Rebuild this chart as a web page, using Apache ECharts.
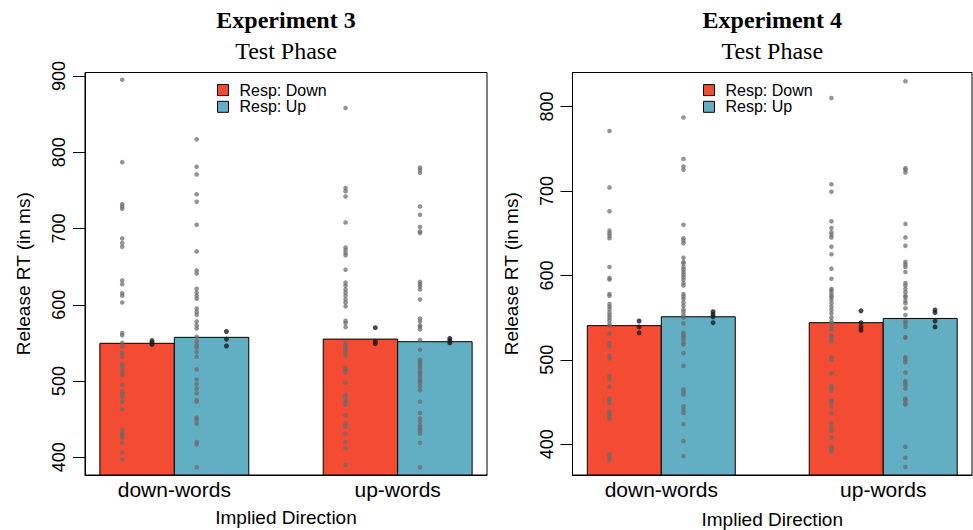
<!DOCTYPE html>
<html>
<head>
<meta charset="utf-8">
<script src="https://cdn.jsdelivr.net/npm/echarts@6/dist/echarts.min.js"></script>
<style>html,body{margin:0;padding:0;background:#fff}#c{width:973px;height:530px}</style>
</head>
<body>
<div id="c"></div>
<script>
// ---------- data ----------
const categories = ['down-words', 'up-words'];
const responses = ['Resp: Down', 'Resp: Up'];
const panelTitles = ['Experiment 3', 'Experiment 4'];
const panelSubtitle = 'Test Phase';
const yTicksExp3 = [400, 500, 600, 700, 800, 900];
const yTicksExp4 = [400, 500, 600, 700, 800];
const yRangeExp3 = [376.8, 904.6];
const yRangeExp4 = [363.6, 840.3];

// bar heights: [category][response]
const exp3Means = [[549.5, 557.3], [555.0, 551.6]];
const exp4Means = [[540.5, 551.0], [544.0, 549.0]];

// individual (grey) points
const e3DownRespDown = [895, 787, 732, 729, 726, 687, 681, 676, 632, 627, 615, 612, 603, 563, 560, 550, 545, 537, 532, 522, 520, 517, 512, 508, 495, 486, 483, 479, 473, 463, 436, 432, 429, 426, 419, 406, 397];
const e3DownRespUp = [817, 781, 771, 745, 735, 705, 670, 645, 641, 621, 616, 612, 608, 595, 591, 587, 578, 573, 569, 558, 552, 547, 544, 538, 532, 515, 502, 496, 490, 484, 475, 473, 452, 449, 444, 420, 417, 387];
const e3UpRespDown = [858, 753, 749, 742, 708, 675, 672, 668, 665, 646, 629, 625, 620, 616, 612, 607, 603, 598, 579, 576, 571, 550, 547, 544, 541, 537, 533, 517, 514, 511, 498, 482, 479, 475, 472, 469, 455, 444, 440, 431, 420, 412, 390];
const e3UpRespUp = [780, 777, 773, 729, 718, 702, 696, 694, 630, 627, 624, 620, 607, 582, 578, 573, 571, 568, 554, 541, 528, 525, 523, 520, 517, 513, 510, 507, 503, 500, 497, 493, 488, 473, 458, 451, 447, 442, 438, 435, 431, 419, 387];
const e4DownRespDown = [771, 704, 676, 653, 650, 647, 644, 610, 597, 595, 578, 576, 566, 563, 560, 556, 553, 550, 547, 543, 540, 531, 520, 516, 505, 502, 481, 477, 468, 454, 452, 449, 439, 436, 433, 430, 388, 385, 381];
const e4DownRespUp = [787, 738, 729, 725, 660, 644, 641, 638, 621, 616, 614, 610, 607, 604, 601, 598, 595, 591, 588, 578, 575, 572, 568, 564, 560, 557, 553, 550, 543, 532, 529, 527, 524, 520, 518, 508, 493, 465, 462, 459, 445, 441, 437, 424, 404, 386];
const e4UpRespDown = [810, 708, 699, 664, 656, 651, 648, 645, 634, 625, 608, 596, 584, 582, 579, 576, 574, 571, 567, 563, 559, 555, 550, 546, 543, 539, 536, 529, 527, 524, 522, 503, 500, 484, 469, 466, 463, 452, 450, 445, 437, 425, 420, 416, 408, 397, 394, 391];
const e4UpRespUp = [830, 727, 725, 722, 661, 645, 635, 616, 613, 610, 604, 591, 588, 584, 580, 576, 574, 570, 567, 561, 553, 546, 543, 539, 527, 526, 503, 500, 497, 485, 475, 473, 470, 466, 454, 452, 449, 447, 397, 384, 373];

// summary (dark) points
const e3DownRespDownM = [553, 550, 548];
const e3DownRespUpM = [565, 555, 546];
const e3UpRespDownM = [570, 552, 549];
const e3UpRespUpM = [556, 553, 550];
const e4DownRespDownM = [546, 539, 532];
const e4DownRespUpM = [557, 554, 551, 544];
const e4UpRespDownM = [558, 544, 539, 535];
const e4UpRespUpM = [559, 556, 546, 539];

// ---------- build ----------
const RED = '#F44B33';
const BLUE = '#62AEC3';
const colors = [RED, BLUE];
const SANS = 'Liberation Sans';
const SERIF = 'Liberation Serif';

const panels = [
  {means: exp3Means, pts: [[e3DownRespDown, e3DownRespUp], [e3UpRespDown, e3UpRespUp]],
   mpts: [[e3DownRespDownM, e3DownRespUpM], [e3UpRespDownM, e3UpRespUpM]], ticks: yTicksExp3, range: yRangeExp3},
  {means: exp4Means, pts: [[e4DownRespDown, e4DownRespUp], [e4UpRespDown, e4UpRespUp]],
   mpts: [[e4DownRespDownM, e4DownRespUpM], [e4UpRespDownM, e4UpRespUpM]], ticks: yTicksExp4, range: yRangeExp4}
];

// barplot units: bar r of group g spans [1+3g+r, 2+3g+r]
const barLeft = (g, r) => 1 + 3 * g + r;
const groupCenter = g => 2 + 3 * g;

const grids = [
  {left: 85, right: 486, top: 72.5, bottom: 55},
  {left: 572.5, right: 1, top: 72.5, bottom: 55}
];
const centers = [286, 772.25];

function renderBar(params, api) {
  const x0 = api.value(0), x1 = api.value(1), v = api.value(2);
  const p0 = api.coord([x0, v]);
  const p1 = api.coord([x1, v]);
  const cs = params.coordSys;
  const bottom = cs.y + cs.height;
  return {
    type: 'rect',
    shape: {x: p0[0], y: p0[1], width: p1[0] - p0[0], height: bottom - p0[1]},
    style: {fill: api.visual('color'), stroke: '#000', lineWidth: 1}
  };
}

const series = [];
const xAxes = [], yAxes = [], titles = [], legends = [];
panels.forEach((P, pi) => {
  xAxes.push({
    type: 'value', gridIndex: pi, min: 0.8, max: 6.2,
    axisLine: {show: true, onZero: false, lineStyle: {color: '#000', width: 1}},
    axisTick: {show: false}, splitLine: {show: false},
    axisLabel: {show: true, customValues: categories.map((c, g) => groupCenter(g)),
      formatter: v => categories[Math.round((v - 2) / 3)], fontSize: 21, fontFamily: SANS, color: '#000', margin: 4},
    name: 'Implied Direction', nameLocation: 'middle', nameGap: 33 + pi * 2,
    nameTextStyle: {fontSize: 19, fontFamily: SANS, color: '#000'}
  });
  yAxes.push({
    type: 'value', gridIndex: pi, min: P.range[0], max: P.range[1],
    axisLine: {show: true, lineStyle: {color: '#000', width: 1}},
    axisTick: {show: true, length: 12, customValues: P.ticks, lineStyle: {color: '#000', width: 1}},
    axisLabel: {rotate: 90, fontSize: 18, fontFamily: SANS, color: '#000', margin: 17, customValues: P.ticks},
    splitLine: {show: false},
    name: 'Release RT (in ms)', nameLocation: 'middle', nameGap: 52,
    nameTextStyle: {fontSize: 19, fontFamily: SANS, color: '#000'}
  });
  titles.push({text: panelTitles[pi], left: centers[pi], top: 8, textAlign: 'center', padding: 0,
    textStyle: {fontFamily: SERIF, fontSize: 24, fontWeight: 'bold', color: '#000'}});
  titles.push({text: panelSubtitle, left: centers[pi], top: 39, textAlign: 'center', padding: 0,
    textStyle: {fontFamily: SERIF, fontSize: 24, fontWeight: 'normal', color: '#000'}});
  legends.push({
    data: responses, orient: 'vertical', left: pi === 0 ? 217 : 703, top: 82, padding: 0,
    itemWidth: 11, itemHeight: 11, itemGap: 0.5, icon: 'rect', selectedMode: false,
    itemStyle: {borderColor: '#000', borderWidth: 1},
    textStyle: {fontSize: 16, fontFamily: SANS, color: '#000', lineHeight: 16.2, padding: [0, 0, 0, 6]}
  });
  responses.forEach((rn, r) => {
    series.push({
      type: 'custom', name: rn, xAxisIndex: pi, yAxisIndex: pi, clip: true,
      itemStyle: {color: colors[r]},
      encode: {x: [0, 1], y: 2},
      renderItem: renderBar,
      data: categories.map((c, g) => [barLeft(g, r), barLeft(g, r) + 1, P.means[g][r]]),
      z: 2
    });
  });
  categories.forEach((c, g) => {
    responses.forEach((rn, r) => {
      series.push({
        type: 'scatter', xAxisIndex: pi, yAxisIndex: pi, symbolSize: 4.6, z: 4,
        itemStyle: {color: '#6b6b6b', opacity: 0.72}, silent: true,
        data: P.pts[g][r].map(v => [barLeft(g, r) + 0.3, v])
      });
      series.push({
        type: 'scatter', xAxisIndex: pi, yAxisIndex: pi, symbolSize: 5, z: 5,
        itemStyle: {color: '#1a1a1a', opacity: 0.8}, silent: true,
        data: P.mpts[g][r].map(v => [barLeft(g, r) + 0.7, v])
      });
    });
  });
});

const chart = echarts.init(document.getElementById('c'), null, {renderer: 'svg', width: 973, height: 530});
chart.setOption({
  animation: false,
  backgroundColor: '#fff',
  title: titles,
  legend: legends,
  grid: grids.map(g => Object.assign({show: true, borderColor: '#000', borderWidth: 1, backgroundColor: 'transparent', containLabel: false, outerBoundsMode: 'none'}, g)),
  xAxis: xAxes,
  yAxis: yAxes,
  series: series
});
</script>
</body>
</html>
